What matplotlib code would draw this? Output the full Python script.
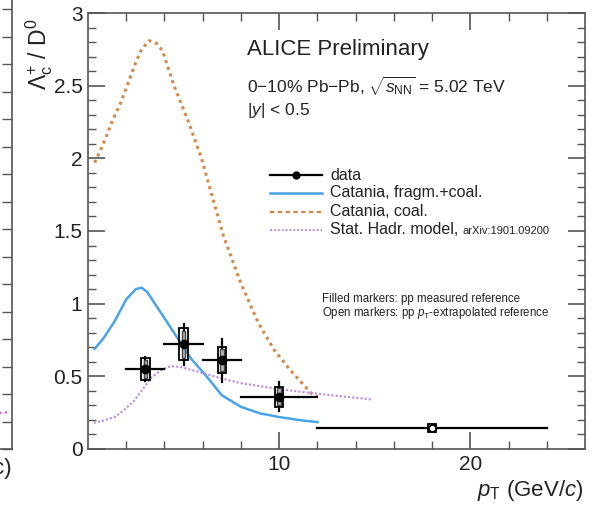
import matplotlib
matplotlib.use("Agg")
import matplotlib.pyplot as plt
from matplotlib.patches import Rectangle
from matplotlib.lines import Line2D
import numpy as np

plt.rcParams['font.family'] = ['Liberation Sans', 'DejaVu Sans']
plt.rcParams['mathtext.fontset'] = 'custom'
plt.rcParams['mathtext.rm'] = 'Liberation Sans'
plt.rcParams['mathtext.it'] = 'Liberation Sans:italic'
plt.rcParams['mathtext.bf'] = 'Liberation Sans:bold'

# ---- data ----
data_x = [3, 5, 7, 10, 18]
data_xlo = [2, 4, 6, 8, 12]
data_xhi = [4, 6, 8, 12, 24]
data_y = [0.55, 0.72, 0.61, 0.36, 0.145]
data_stat = [0.08, 0.14, 0.15, 0.10, 0.02]
data_syst = [0.075, 0.11, 0.09, 0.07, 0.025]
data_filled = [True, True, True, True, False]

cat_coal_x = [0.35, 0.8, 1.25, 1.7, 2.05, 2.5, 2.8, 3.2, 3.6, 3.9, 4.5, 5.26, 5.94, 6.45, 7.1, 8.0, 8.9, 9.75, 10.6, 11.7, 12.0]
cat_coal_y = [1.97, 2.1, 2.25, 2.38, 2.5, 2.66, 2.75, 2.81, 2.79, 2.74, 2.5, 2.25, 2.0, 1.76, 1.46, 1.14, 0.87, 0.68, 0.54, 0.38, 0.36]

cat_frag_x = [0.35, 0.8, 1.4, 2.0, 2.5, 2.8, 3.1, 3.7, 4.5, 5.4, 6.2, 7.0, 7.5, 8.0, 9.0, 10.0, 11.0, 12.0]
cat_frag_y = [0.69, 0.76, 0.88, 1.03, 1.10, 1.11, 1.08, 0.96, 0.80, 0.62, 0.50, 0.37, 0.33, 0.29, 0.245, 0.22, 0.20, 0.185]

shm_x = [0.3, 0.8, 1.4, 1.9, 2.4, 2.8, 3.3, 3.8, 4.3, 4.8, 5.4, 6.6, 7.9, 10.1, 12.0, 14.9]
shm_y = [0.18, 0.195, 0.22, 0.27, 0.33, 0.40, 0.49, 0.54, 0.57, 0.565, 0.545, 0.50, 0.455, 0.41, 0.38, 0.34]

legend_labels = ["data", "Catania, fragm.+coal.", "Catania, coal.", "Stat. Hadr. model,"]

# ---- figure ----
W, H = 595, 514
fig = plt.figure(figsize=(W / 100, H / 100), dpi=100)

def px(x0, y0, x1, y1):
    return [x0 / W, 1 - y1 / H, (x1 - x0) / W, (y1 - y0) / H]

# partial left panel (cropped)
axl = fig.add_axes(px(-200, -20, 12, 449))
axl.set_xlim(0, 1)
axl.set_ylim(0, 469)
for s in ['left', 'top']:
    axl.spines[s].set_visible(False)
for s in ['right', 'bottom']:
    axl.spines[s].set_color('#555555')
    axl.spines[s].set_linewidth(1.2)
axl.set_xticks([])
axl.yaxis.tick_right()
axl.set_yticks(np.arange(0, 469, 27.5))
axl.tick_params(axis='y', direction='in', length=7, width=1.0, colors='#555555', labelright=False)
axl.plot([0.94, 0.99], [36, 37], ls=':', color='#e040e0', lw=1.5)
fig.text(12 / W, 1 - 474 / H, "c)", fontsize=16, ha='right', va='baseline', color='#222222')

# main panel
ax = fig.add_axes(px(88, 13, 585, 449))
ax.set_xlim(0, 26)
ax.set_ylim(0, 3)

c_orange = '#d4894a'
c_blue = '#4aa3e6'
c_purple = '#b98be6'

ax.plot(cat_coal_x, cat_coal_y, color=c_orange, lw=2.2, ls=(0, (1, 1.3)))
ax.plot(cat_frag_x, cat_frag_y, color=c_blue, lw=1.8)
ax.plot(shm_x, shm_y, color=c_purple, lw=1.5, ls=(0, (1, 1)))

for xc, xl, xh, yv, st, sy, fl in zip(data_x, data_xlo, data_xhi, data_y, data_stat, data_syst, data_filled):
    ax.plot([xl, xh], [yv, yv], color='black', lw=1.6, zorder=5)
    ax.plot([xc, xc], [yv - st, yv + st], color='black', lw=1.6, zorder=5)
    bw = 0.45
    ax.add_patch(Rectangle((xc - bw / 2, yv - sy), bw, 2 * sy, fill=False, ec='black', lw=1.3, zorder=6))
    ax.add_patch(Rectangle((xc - bw / 5, yv - sy * 0.85), 2 * bw / 5, 1.7 * sy, fill=True, fc='#bbbbbb', ec='#444444', lw=1.0, zorder=5.5))
    if fl:
        ax.plot([xc], [yv], 'o', color='black', ms=6, zorder=7)
    else:
        ax.plot([xc], [yv], 'o', mfc='white', mec='black', mew=1.2, ms=5, zorder=7)

ax.set_xticks([10, 20])
ax.set_xticks(np.arange(2, 26, 2), minor=True)
ax.set_yticks([0, 0.5, 1, 1.5, 2, 2.5, 3])
ax.set_yticklabels(['0', '0.5', '1', '1.5', '2', '2.5', '3'])
ax.set_yticks(np.arange(0, 3.01, 0.1), minor=True)
ax.tick_params(which='both', direction='in', top=True, right=True, colors='#555555', labelcolor='#222222')
ax.tick_params(which='major', length=12, width=1.2, labelsize=15, pad=4)
ax.tick_params(which='minor', length=6, width=1.0)
for s in ax.spines.values():
    s.set_color('#555555')
    s.set_linewidth(1.2)

fig.text(583 / W, 1 - 496 / H, r"$p_{\rm T}$ (GeV/$c$)", fontsize=16, ha='right', va='baseline', color='#222222')
fig.text(39 / W, 1 - 54 / H, r"$\Lambda_{\rm c}^{+}$ / D$^{0}$", fontsize=16.5, rotation=90, ha='center', va='center', color='#222222')

fig.text(247 / W, 1 - 50 / H, "ALICE Preliminary", fontsize=16, color='#222222', va='center')
fig.text(247 / W, 1 - 86 / H, r"0$-$10% Pb$-$Pb, $\sqrt{s_{\rm NN}}$ = 5.02 TeV", fontsize=12.5, color='#222222', va='center')
fig.text(247 / W, 1 - 110 / H, r"|$y$| < 0.5", fontsize=12.5, color='#222222', va='center')

# legend (manual)
leg_rows = [175, 193, 212, 230]
styles = [dict(color='black', lw=1.6, marker='o', ms=5, markevery=[1]),
          dict(color=c_blue, lw=1.8),
          dict(color=c_orange, lw=1.6, ls=(0, (2, 1.5))),
          dict(color=c_purple, lw=1.4, ls=(0, (1, 1)))]
last = None
for yrow, st, lab in zip(leg_rows, styles, legend_labels):
    fig.add_artist(Line2D([270 / W, 296 / W, 322 / W], [1 - yrow / H] * 3, **st))
    last = fig.text(330 / W, 1 - yrow / H, lab, fontsize=11.5, va='center', color='#222222')
fig.canvas.draw()
bb = last.get_window_extent()
fig.text((bb.x1 + 4) / W, 1 - 231 / H, "arXiv:1901.09200", fontsize=8, va='center', color='#222222')

fig.text(322 / W, 1 - 299 / H, "Filled markers: pp measured reference", fontsize=8.3, va='center', color='#222222')
fig.text(322 / W, 1 - 313 / H, r"Open markers: pp $p_{\rm T}$-extrapolated reference", fontsize=8.3, va='center', color='#222222')

fig.savefig("out.png", dpi=100)
